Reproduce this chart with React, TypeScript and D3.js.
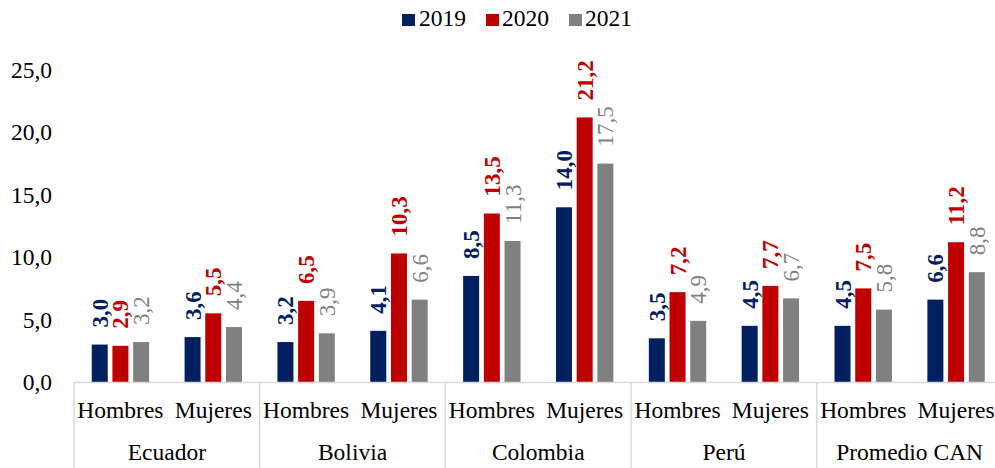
import React from "react";
import * as d3 from "d3";

const countries = ["Ecuador", "Bolivia", "Colombia", "Perú", "Promedio CAN"];
const genders = ["Hombres", "Mujeres"];
const seriesNames = ["2019", "2020", "2021"];
const seriesColors = ["#002060", "#C00000", "#808080"];
// index = country * 2 + gender
const values2019 = [3.0, 3.6, 3.2, 4.1, 8.5, 14.0, 3.5, 4.5, 4.5, 6.6];
const values2020 = [2.9, 5.5, 6.5, 10.3, 13.5, 21.2, 7.2, 7.7, 7.5, 11.2];
const values2021 = [3.2, 4.4, 3.9, 6.6, 11.3, 17.5, 4.9, 6.7, 5.8, 8.8];
const yTicks = [0, 5, 10, 15, 20, 25];

const W = 995;
const H = 468;
const FONT = "Liberation Serif, Tinos, Times New Roman, DejaVu Serif, serif";

export default function App() {
  const x0 = d3.scaleBand<string>().domain(countries).range([74, 1002.5]).padding(0);
  const x1 = d3.scaleBand<string>().domain(genders).range([0, x0.bandwidth()]).padding(0);
  const x2 = d3
    .scaleBand<string>()
    .domain(seriesNames)
    .range([-28.7, 28.7])
    .paddingInner(0.227)
    .paddingOuter(0);
  const y = d3.scaleLinear().domain([0, 25]).range([382, 70]);
  const seriesVals = [values2019, values2020, values2021];
  const fmt = (v: number) => v.toFixed(1).replace(".", ",");

  const bars: React.ReactNode[] = [];
  const labels: React.ReactNode[] = [];
  countries.forEach((c, ci) => {
    genders.forEach((g, gi) => {
      const center = (x0(c) as number) + (x1(g) as number) + x1.bandwidth() / 2;
      seriesNames.forEach((s, si) => {
        const v = seriesVals[si][ci * 2 + gi];
        const bx = center + (x2(s) as number);
        const bw = x2.bandwidth();
        bars.push(
          <rect
            key={`b-${c}-${g}-${s}`}
            x={bx}
            y={y(v)}
            width={bw}
            height={y(0) - y(v)}
            fill={seriesColors[si]}
          />
        );
        const lx = bx + bw / 2 + 8;
        const ly = y(v) - 17;
        labels.push(
          <text
            key={`l-${c}-${g}-${s}`}
            transform={`translate(${lx},${ly}) rotate(-90)`}
            textAnchor="start"
            style={{ fontFamily: FONT, fontSize: 23, fontWeight: si < 2 ? 700 : 400 }}
            fill={seriesColors[si]}
          >
            {fmt(v)}
          </text>
        );
      });
    });
  });

  const sepX = countries.map((c) => x0(c) as number).concat([1002.5]);

  const legendItems = [
    { x: 402, tx: 419 },
    { x: 486, tx: 502 },
    { x: 569, tx: 585 },
  ];
  const txt = { fontFamily: FONT, fontSize: 23.5 };

  return (
    <div style={{ position: "absolute", left: 0, top: 0 }}>
      <svg width={W} height={H} style={{ display: "block", background: "#fff" }}>
        <rect x={0} y={0} width={W} height={H} fill="#fff" />
        {seriesNames.map((s, i) => (
          <g key={`lg-${s}`}>
            <rect x={legendItems[i].x} y={14} width={13} height={12} fill={seriesColors[i]} />
            <text x={legendItems[i].tx} y={26} style={txt} fill="#000">
              {s}
            </text>
          </g>
        ))}
        {yTicks.map((t) => (
          <text key={`yt-${t}`} x={52} y={y(t) + 8} textAnchor="end" style={txt} fill="#000">
            {fmt(t)}
          </text>
        ))}
        {bars}
        <line x1={74} x2={1002.5} y1={382.5} y2={382.5} stroke="#D9D9D9" strokeWidth={1.5} />
        {sepX.map((sx, i) => (
          <line key={`sep-${i}`} x1={sx} x2={sx} y1={382} y2={H} stroke="#D9D9D9" strokeWidth={1.5} />
        ))}
        {countries.map((c) =>
          genders.map((g) => (
            <text
              key={`gl-${c}-${g}`}
              x={(x0(c) as number) + (x1(g) as number) + x1.bandwidth() / 2}
              y={418}
              textAnchor="middle"
              style={txt}
              fill="#000"
            >
              {g}
            </text>
          ))
        )}
        {countries.map((c) => (
          <text
            key={`cl-${c}`}
            x={(x0(c) as number) + x0.bandwidth() / 2}
            y={460}
            textAnchor="middle"
            style={txt}
            fill="#000"
          >
            {c}
          </text>
        ))}
        {labels}
      </svg>
    </div>
  );
}
